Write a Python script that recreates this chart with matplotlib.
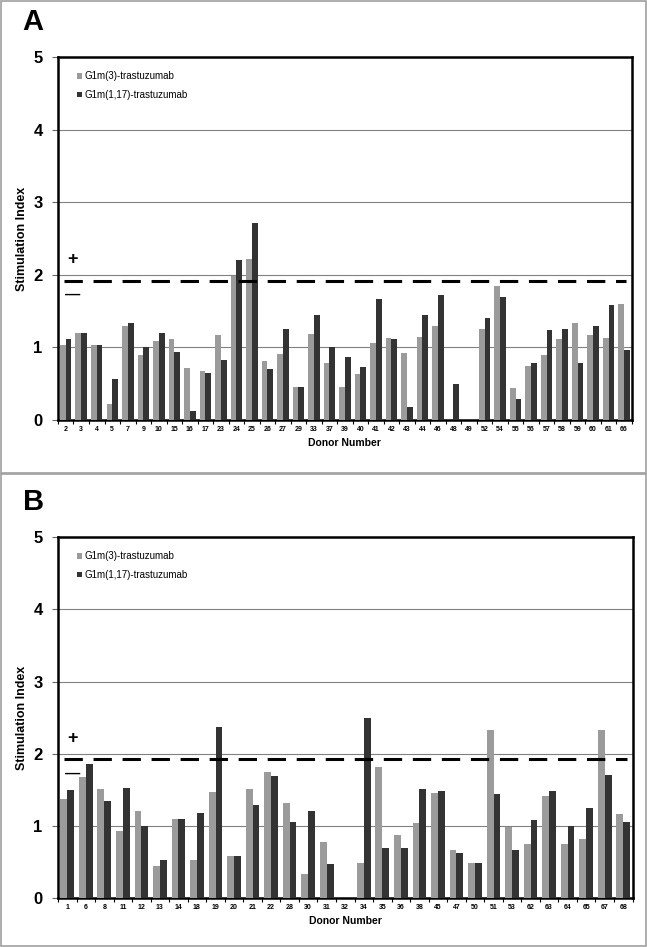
import numpy as np
import matplotlib
matplotlib.use("Agg")
import matplotlib.pyplot as plt
from matplotlib.patches import Rectangle

# panel A data
donors_a = ["2", "3", "4", "5", "7", "9", "10", "15", "16", "17", "23", "24", "25",
            "26", "27", "29", "33", "37", "39", "40", "41", "42", "43", "44", "46",
            "48", "49", "52", "54", "55", "56", "57", "58", "59", "60", "61", "66"]
g1m3_a = [1.03, 1.20, 1.03, 0.22, 1.29, 0.89, 1.09, 1.12, 0.71, 0.68, 1.17, 1.98, 2.22,
          0.81, 0.91, 0.46, 1.18, 0.79, 0.46, 0.63, 1.06, 1.13, 0.92, 1.15, 1.30,
          0.0, 0.0, 1.26, 1.84, 0.44, 0.75, 0.90, 1.11, 1.33, 1.17, 1.13, 1.60]
g1m117_a = [1.11, 1.20, 1.03, 0.56, 1.34, 1.00, 1.20, 0.94, 0.12, 0.65, 0.83, 2.20, 2.72,
            0.70, 1.26, 0.46, 1.44, 1.01, 0.87, 0.73, 1.66, 1.12, 0.18, 1.45, 1.72,
            0.50, 0.0, 1.41, 1.69, 0.29, 0.79, 1.24, 1.26, 0.79, 1.29, 1.58, 0.96]

# panel B data
donors_b = ["1", "6", "8", "11", "12", "13", "14", "18", "19", "20", "21", "22", "28",
            "30", "31", "32", "34", "35", "36", "38", "45", "47", "50", "51", "53",
            "62", "63", "64", "65", "67", "68"]
g1m3_b = [1.37, 1.68, 1.51, 0.93, 1.21, 0.44, 1.09, 0.53, 1.47, 0.58, 1.51, 1.74, 1.32,
          0.33, 0.77, 0.0, 0.49, 1.82, 0.88, 1.04, 1.45, 0.66, 0.49, 2.33, 0.99,
          0.75, 1.41, 0.75, 0.82, 2.33, 1.16]
g1m117_b = [1.50, 1.86, 1.35, 1.52, 1.00, 0.53, 1.10, 1.18, 2.37, 0.58, 1.29, 1.69, 1.06,
            1.21, 0.47, 0.0, 2.50, 0.69, 0.70, 1.51, 1.49, 0.63, 0.49, 1.44, 0.67,
            1.08, 1.48, 1.00, 1.25, 1.71, 1.06]

threshold = 1.92
light = "#9b9b9b"
dark = "#333333"

fig = plt.figure(figsize=(6.47, 9.47), dpi=100)
plt.rcParams['font.family'] = ['Liberation Sans', 'DejaVu Sans']

# panel frames
for y0, h in [(0.5, 0.5), (0.0, 0.5)]:
    fig.add_artist(Rectangle((0.001, y0 + 0.001), 0.997, h - 0.002, transform=fig.transFigure,
                             fill=False, edgecolor="#a0a0a0", lw=1.2))


def panel(rect, letter, donors, v1, v2, letter_y):
    ax = fig.add_axes(rect)
    x = np.arange(len(donors))
    w = 0.37
    ax.bar(x - w / 2, v1, w, color=light, label="G1m(3)-trastuzumab", zorder=3)
    ax.bar(x + w / 2, v2, w, color=dark, label="G1m(1,17)-trastuzumab", zorder=3)
    ax.set_xlim(-0.5, len(donors) - 0.5)
    ax.set_ylim(0, 5)
    ax.set_yticks([0, 1, 2, 3, 4, 5])
    ax.set_yticklabels(["0", "1", "2", "3", "4", "5"], fontsize=12, fontweight="bold")
    ax.tick_params(axis="y", length=4, width=0.8, pad=7, color="#666666")
    ax.set_xticks(x)
    ax.set_xticklabels(donors, fontsize=5, fontweight="bold")
    ax.tick_params(axis="x", length=0, pad=4)
    ax.set_xticks(np.arange(len(donors) + 1) - 0.5, minor=True)
    ax.tick_params(axis="x", which="minor", length=3, width=0.8)
    ax.grid(axis="y", color="#808080", lw=0.8, zorder=1)
    for s in ax.spines.values():
        s.set_linewidth(1.8)
        s.set_color("black")
    ax.axhline(threshold, xmin=0.01, xmax=0.99, color="black", lw=2.2,
               dashes=(6, 3.5), zorder=4)
    ax.text(0.025, 2.1, "+", fontsize=13, fontweight="bold", ha="center", va="bottom",
            transform=ax.get_yaxis_transform())
    ax.text(0.025, 1.72, "\u2014", fontsize=11, fontweight="bold", ha="center", va="center",
            transform=ax.get_yaxis_transform())
    ax.set_ylabel("Stimulation Index", fontsize=9, fontweight="bold", labelpad=4)
    ax.set_xlabel("Donor Number", fontsize=7.5, fontweight="bold", labelpad=4)
    ax.legend(loc="upper left", bbox_to_anchor=(0.018, 0.985), frameon=False, fontsize=7,
              handlelength=0.5, handleheight=0.5, handletextpad=0.3, labelspacing=0.9)
    fig.text(0.035, letter_y, letter, fontsize=21, fontweight="bold", ha="left", va="center")
    return ax


panel([0.0896, 0.5565, 0.887, 0.3833], "A", donors_a, g1m3_a, g1m117_a, 0.977)
panel([0.0896, 0.0517, 0.888, 0.381], "B", donors_b, g1m3_b, g1m117_b, 0.470)

fig.savefig("out.png", dpi=100)
